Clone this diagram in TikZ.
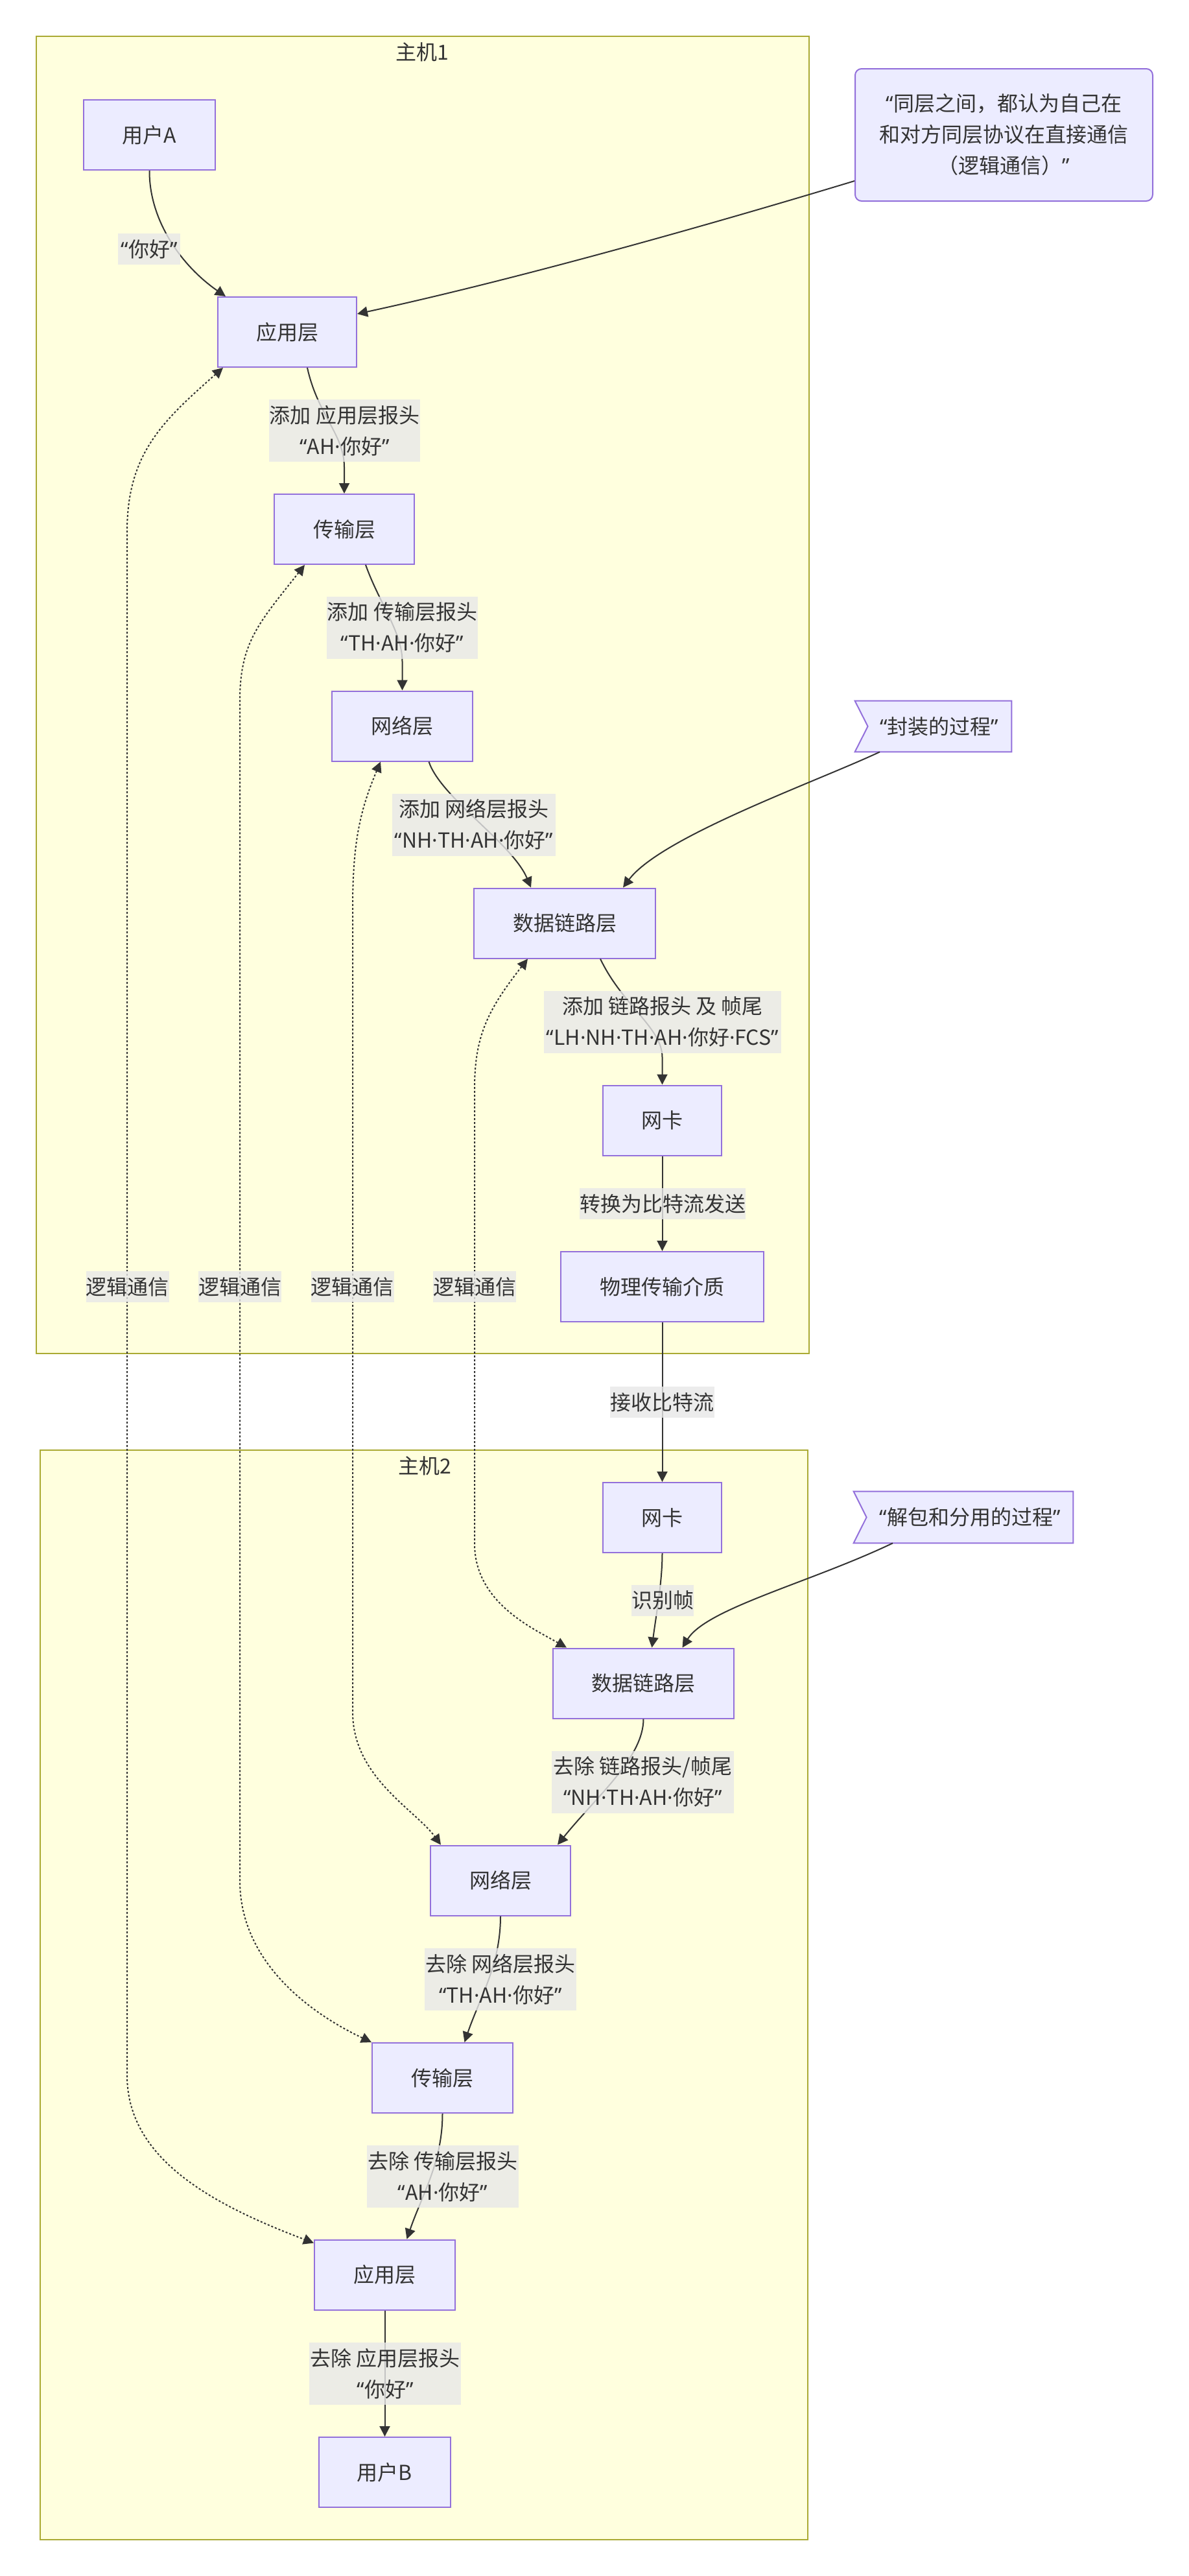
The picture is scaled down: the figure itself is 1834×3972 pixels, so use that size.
\documentclass[tikz,border=0pt]{standalone}
\usepackage{fontspec}
\setmainfont{Noto Sans CJK SC}
\newfontfamily\latfont{Noto Sans}
\newcommand{\oq}{{\latfont “}}
\newcommand{\cq}{{\latfont ”}}
\newcommand{\md}{{\latfont ·}}
\usetikzlibrary{arrows.meta,backgrounds}
\definecolor{boxfill}{HTML}{ECECFF}
\definecolor{boxline}{HTML}{9370DB}
\definecolor{clfill}{HTML}{FFFFDE}
\definecolor{clline}{HTML}{AAAA33}
\definecolor{txt}{HTML}{333333}
\definecolor{lblfill}{HTML}{E8E8E8}
\tikzset{
  base/.style={font=\fontsize{16}{24}\selectfont, text=txt, inner sep=0pt, align=center},
  layerbox/.style={base, draw=boxline, fill=boxfill, line width=1pt, minimum height=54pt},
  lbl/.style={base, fill=lblfill, fill opacity=0.8, text opacity=1},
  lblone/.style={lbl, minimum height=24pt},
  lbltwo/.style={lbl, minimum height=48pt},
  cluster/.style={draw=clline, fill=clfill, line width=1pt},
  flagshape/.style={draw=boxline, fill=boxfill, line width=1pt},
  flow/.style={draw=txt, line width=1pt, -{Triangle[length=8pt,width=8pt]}},
  logic/.style={draw=txt, line width=1pt, dash pattern=on 1.5pt off 1.5pt,
    {Triangle[length=8pt,width=8pt]}-{Triangle[length=8pt,width=8pt]}},
}
\begin{document}
\begin{tikzpicture}[x=0.5pt,y=-0.5pt]
\useasboundingbox (0,0) rectangle (1834,3972);
% clusters
\draw[cluster] (56,56) rectangle (1248,2087);
\draw[cluster] (62,2236) rectangle (1246,3916);
\node[base] (t1) at (651,80) {主机1};
\node[base] (t2) at (655,2260) {主机2};
% host 1 nodes
\node[layerbox, minimum width=101.5pt] (userA) at (230.5,208) {用户A};
\node[layerbox, minimum width=107pt] (app1) at (443,512) {应用层};
\node[layerbox, minimum width=108pt] (trans1) at (531,816) {传输层};
\node[layerbox, minimum width=108.5pt] (net1) at (620.5,1119.5) {网络层};
\node[layerbox, minimum width=140pt] (dl1) at (871,1423.5) {数据链路层};
\node[layerbox, minimum width=91.5pt] (nic1) at (1021.5,1727.5) {网卡};
\node[layerbox, minimum width=156.5pt] (phy) at (1021.5,1984) {物理传输介质};
% host 2 nodes
\node[layerbox, minimum width=91.5pt] (nic2) at (1021.5,2340) {网卡};
\node[layerbox, minimum width=139.5pt] (dl2) at (992.5,2595.5) {数据链路层};
\node[layerbox, minimum width=108pt] (net2) at (772,2899.5) {网络层};
\node[layerbox, minimum width=108.5pt] (trans2) at (682.5,3204) {传输层};
\node[layerbox, minimum width=108.5pt] (app2) at (593.5,3507.5) {应用层};
\node[layerbox, minimum width=101.5pt] (userB) at (593.5,3812) {用户B};
% notes
\node[base, draw=boxline, fill=boxfill, line width=1pt, rounded corners=5pt,
      minimum width=229.5pt, minimum height=102pt] (note) at (1548.5,208)
      {\oq 同层之间，都认为自己在\\和对方同层协议在直接通信\\（逻辑通信）\cq};
\node[base, minimum width=120.5pt, minimum height=39pt] (f1) at (1439.5,1120)
      {\hspace*{9pt}\oq 封装的过程\cq};
\node[base, minimum width=169pt, minimum height=39.5pt] (f2) at (1486,2339.5)
      {\hspace*{10pt}\oq 解包和分用的过程\cq};
\begin{scope}[on background layer]
  \fill[white] (0,0) rectangle (1834,3972);
  \draw[flagshape] (f1.north west) -- (f1.north east) -- (f1.south east) -- (f1.south west) -- ([xshift=10pt]f1.west) -- cycle;
  \draw[flagshape] (f2.north west) -- (f2.north east) -- (f2.south east) -- (f2.south west) -- ([xshift=10pt]f2.west) -- cycle;
\end{scope}
% logical (dashed) links
\draw[logic] ([xshift=4.5pt]app1.south west) .. controls (250,650) and (196,700) .. (196,820)
   -- (196,3200) .. controls (196,3330) and (330,3400) .. ([yshift=-3pt]app2.north west);
\draw[logic] ([xshift=24pt]trans1.south west) .. controls (400,960) and (370,990) .. (370,1080)
   -- (370,2900) .. controls (370,3020) and (470,3100) .. (trans2.north west);
\draw[logic] ([xshift=38pt]net1.south west) .. controls (555,1250) and (544,1300) .. (544,1400)
   -- (544,2640) .. controls (544,2740) and (640,2790) .. ([xshift=8.5pt]net2.north west);
\draw[logic] ([xshift=42pt]dl1.south west) .. controls (750,1560) and (732,1600) .. (732,1680)
   -- (732,2380) .. controls (732,2470) and (820,2510) .. ([xshift=11pt]dl2.north west);
% solid flows
\draw[flow] (userA.south) .. controls (230,340) and (280,410) .. ([xshift=6.5pt]app1.north west);
\draw[flow] ([yshift=-35.5pt]note.west) .. controls (1100,345) and (800,430) .. ([yshift=14pt]app1.east);
\draw[flow] ([xshift=15.5pt]app1.south) .. controls (490,640) and (531,670) .. (531,720) -- (trans1.north);
\draw[flow] ([xshift=16.5pt]trans1.south) .. controls (585,930) and (620.5,975) .. (620.5,1020) -- (net1.north);
\draw[flow] ([xshift=20.5pt]net1.south) .. controls (680,1230) and (790,1300) .. ([xshift=-26pt]dl1.north);
\draw[flow] ([xshift=-41.25pt]f1.south) .. controls (1260,1205) and (1020,1290) .. ([xshift=45pt]dl1.north);
\draw[flow] ([xshift=27.5pt]dl1.south) .. controls (960,1550) and (1021.5,1585) .. (1021.5,1630) -- (nic1.north);
\draw[flow] (nic1.south) -- (phy.north);
\draw[flow] (phy.south) -- (nic2.north);
\draw[flow] (nic2.south) .. controls (1021.5,2440) and (1012,2490) .. ([xshift=6.5pt]dl2.north);
\draw[flow] ([xshift=-54.5pt]f2.south) .. controls (1250,2440) and (1090,2480) .. ([xshift=30pt]dl2.north);
\draw[flow] (dl2.south) .. controls (992.5,2710) and (920,2770) .. ([xshift=44pt]net2.north);
\draw[flow] (net2.south) .. controls (772,3030) and (740,3080) .. ([xshift=17pt]trans2.north);
\draw[flow] (trans2.south) .. controls (682.5,3334) and (651,3384) .. ([xshift=17pt]app2.north);
\draw[flow] (app2.south) -- (userB.north);
% edge labels
\node[lblone, minimum width=48pt] (l0) at (230,384) {\oq 你好\cq};
\node[lbltwo, minimum width=116.5pt] (l1) at (531.5,664) {添加 应用层报头\\\oq AH\md 你好\cq};
\node[lbltwo, minimum width=116.5pt] (l2) at (620.5,967.5) {添加 传输层报头\\\oq TH\md AH\md 你好\cq};
\node[lbltwo, minimum width=126pt] (l3) at (731,1271.5) {添加 网络层报头\\\oq NH\md TH\md AH\md 你好\cq};
\node[lbltwo, minimum width=183pt] (l4) at (1022,1575.5) {添加 链路报头 及 帧尾\\\oq LH\md NH\md TH\md AH\md 你好\md FCS\cq};
\node[lblone, minimum width=128pt] (l5) at (1022,1856) {转换为比特流发送};
\node[lblone, minimum width=80.5pt] (l6) at (1021.5,2162) {接收比特流};
\node[lblone, minimum width=48pt] (l7) at (1022,2467.5) {识别帧};
\node[lbltwo, minimum width=140.5pt] (l8) at (991.5,2747.5) {去除 链路报头/帧尾\\\oq NH\md TH\md AH\md 你好\cq};
\node[lbltwo, minimum width=117pt] (l9) at (772,3052) {去除 网络层报头\\\oq TH\md AH\md 你好\cq};
\node[lbltwo, minimum width=117pt] (l10) at (683,3356) {去除 传输层报头\\\oq AH\md 你好\cq};
\node[lbltwo, minimum width=117pt] (l11) at (594,3660) {去除 应用层报头\\\oq 你好\cq};
\node[lblone, minimum width=63.5pt] (g1) at (196.5,1984) {逻辑通信};
\node[lblone, minimum width=63.5pt] (g2) at (370,1984) {逻辑通信};
\node[lblone, minimum width=63.5pt] (g3) at (543.5,1984) {逻辑通信};
\node[lblone, minimum width=63.5pt] (g4) at (732,1984) {逻辑通信};
\end{tikzpicture}
\end{document}
